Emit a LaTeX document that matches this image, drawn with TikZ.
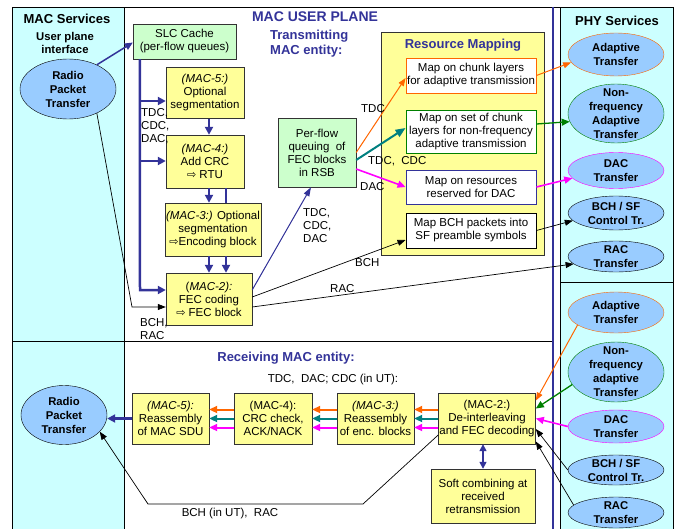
\documentclass[tikz,border=0pt]{standalone}
\usepackage{fontspec}
\setmainfont{Liberation Sans}
\newfontfamily\dvsfont{DejaVu Sans}
\usetikzlibrary{shapes.geometric, arrows.meta}

\definecolor{cyanbg}{HTML}{CCFFFF}
\definecolor{boxyellow}{HTML}{FFFF99}
\definecolor{boxgreen}{HTML}{CCFFCC}
\definecolor{ellblue}{HTML}{99CCFF}
\definecolor{navy}{HTML}{333399}
\definecolor{orangeln}{HTML}{FF6600}
\definecolor{tealln}{HTML}{008080}
\definecolor{greenln}{HTML}{008000}
\definecolor{magentaln}{HTML}{FF00FF}

\newcommand{\txtfont}{\fontsize{11.5}{13}\selectfont}
\newcommand{\ellfont}{\fontsize{11.3}{14}\selectfont\bfseries}
\newcommand{\headfont}{\fontsize{13}{15}\selectfont\bfseries}
\newcommand{\fecarrow}{{\dvsfont\fontsize{11}{11}\selectfont ⇨}}

\begin{document}
\begin{tikzpicture}[x=1pt, y=-1pt,
    panel/.style={draw, fill=cyanbg},
    box/.style={draw=black!80, align=center, inner sep=1pt, font=\txtfont},
    ybox/.style={box, fill=boxyellow},
    gbox/.style={box, fill=boxgreen},
    mapbox/.style={box, fill=white, line width=0.9pt, minimum width=130pt},
    ell/.style={ellipse, draw, fill=ellblue, inner sep=-8pt, align=center, font=\ellfont, minimum width=96pt},
    lbl/.style={font=\txtfont, align=left, inner sep=0pt},
    headtxt/.style={font=\headfont, text=navy, inner sep=0pt},
    busline/.style={draw=navy, line width=2.5pt},
    busarr/.style={busline, -{Triangle[length=8pt,width=8pt]}},
    navyarr/.style={draw=navy, line width=1.5pt, -{Triangle[length=8pt,width=7pt]}},
    navythin/.style={draw=navy, line width=1pt, -{Triangle[length=9pt,width=6pt]}},
    blkarr/.style={draw=black, line width=0.7pt, -{Triangle[length=8pt,width=6pt]}},
    orangearr/.style={draw=orangeln, line width=1pt, -{Triangle[length=8pt,width=6pt]}},
    tealarr/.style={draw=tealln, line width=2pt, -{Triangle[length=10pt,width=8pt]}},
    greenarr/.style={draw=greenln, line width=1.3pt, -{Triangle[length=8pt,width=7pt]}},
    magarr/.style={draw=magentaln, line width=1.6pt, -{Triangle[length=8pt,width=7pt]}},
    rxarr/.style={line width=2pt, -{Triangle[length=8pt,width=7pt]}}]
    \useasboundingbox (0,0) rectangle (676,529);
    \clip (0,0) rectangle (676,529);
    % panels
    \fill[white] (0,0) rectangle (676,529);
    \draw[panel] (12,7) rectangle (124,341);
    \draw[panel] (12,341) rectangle (124,540);
    \draw (124,7) rectangle (553,341);
    \draw (124,341) rectangle (553,540);
    \draw[panel] (560,7) rectangle (673,282);
    \draw[panel] (560,282) rectangle (673,540);
    \draw (553,7) -- (560,7);
    \draw[navy, line width=2pt] (553,7) -- (553,540);
    % MAC services
    \node[font=\headfont, inner sep=0pt] (macserv) at (67,19) {MAC Services};
    \node[font=\fontsize{11.3}{13}\selectfont\bfseries, align=center, inner sep=0pt] (upif) at (65,42.5) {User plane\\interface};
    \node[ell, minimum height=60pt] (radiot) at (68,89) {Radio\\Packet\\Transfer};
    \node[ell, minimum width=86pt, minimum height=59pt] (radior) at (64,415) {Radio\\Packet\\Transfer};
    % transmitting MAC entity
    \node[headtxt, font=\fontsize{14}{16}\selectfont\bfseries] (userplane) at (315,17) {MAC USER PLANE};
    \node[headtxt, align=left, anchor=west] (txent) at (270,44) {Transmitting\\MAC entity:};
    \node[gbox, minimum width=103pt, minimum height=35pt] (slc) at (184.5,41.5) {SLC Cache\\(per-flow queues)};
    \node[ybox, minimum width=78pt, minimum height=51pt] (mac5t) at (205,93) {\textit{(MAC-5:)}\\Optional\\segmentation};
    \node[ybox, minimum width=78pt, minimum height=53pt] (mac4t) at (205,161.5) {\textit{(MAC-4:)}\\Add CRC\\\fecarrow\ RTU};
    \node[ybox, minimum width=94pt, minimum height=53pt] (mac3t) at (213,229.5) {\textit{(MAC-3:)} Optional\\segmentation\\\fecarrow Encoding block};
    \node[ybox, minimum width=86pt, minimum height=52pt] (mac2t) at (209,299) {(\textit{MAC-2):}\\FEC coding\\\fecarrow\ FEC block};
    \node[gbox, minimum width=78pt, minimum height=69pt] (perflow) at (317,152.5) {Per-flow\\queuing\ \ of\\FEC blocks\\in RSB};
    % resource mapping
    \node[ybox, minimum width=163pt, minimum height=223pt] (resmap) at (462.5,143.5) {};
    \node[headtxt] (resmaptitle) at (463,45) {Resource Mapping};
    \node[mapbox, draw=orangeln, minimum height=35pt] (mapadapt) at (471,75.5) {Map on chunk layers\\for adaptive transmission};
    \node[mapbox, draw=greenln, minimum height=43pt] (mapnonfreq) at (471,131.5) {Map on set of chunk\\layers for non-frequency\\adaptive transmission};
    \node[mapbox, draw=navy, minimum height=34pt] (mapdac) at (471,187) {Map on resources\\reserved for DAC};
    \node[mapbox, draw=black, minimum height=35pt] (mapbch) at (471,230.5) {Map BCH packets into\\SF preamble symbols};
    % PHY services
    \node[font=\headfont, inner sep=0pt] (physerv) at (617,21) {PHY Services};
    \node[ell, draw=orangeln, minimum height=43pt] (phyadaptt) at (616,54.5) {Adaptive\\Transfer};
    \node[ell, draw=greenln, minimum height=59pt] (phynonfreqt) at (616,113.5) {Non-\\frequency\\Adaptive\\Transfer};
    \node[ell, draw=magentaln, minimum height=36pt] (phydact) at (616,170.5) {DAC\\Transfer};
    \node[ell, minimum height=34pt] (phybcht) at (616,213) {BCH / SF\\Control Tr.};
    \node[ell, minimum height=31pt] (phyract) at (616,256.5) {RAC\\Transfer};
    \node[ell, draw=orangeln, minimum height=41pt] (phyadaptr) at (616,312.5) {Adaptive\\Transfer};
    \node[ell, draw=greenln, minimum height=60pt] (phynonfreqr) at (616,372) {Non-\\frequency\\adaptive\\Transfer};
    \node[ell, draw=magentaln, minimum height=33pt] (phydacr) at (616,426.5) {DAC\\Transfer};
    \node[ell, minimum height=30pt] (phybchr) at (616,470) {BCH / SF\\Control Tr.};
    \node[ell, minimum height=31pt] (phyracr) at (616,512.5) {RAC\\Transfer};
    % receiving MAC entity
    \node[headtxt] (rxent) at (286,358) {Receiving MAC entity:};
    \node[lbl] (rxlbl) at (333,380) {TDC,\ \ DAC; CDC (in UT):};
    \node[ybox, minimum width=96pt, minimum height=51pt] (mac2r) at (487,418.5) {(MAC-2:)\\De-interleaving\\and FEC decoding};
    \node[ybox, minimum width=77pt, minimum height=51pt] (mac3r) at (375.5,418.5) {\textit{(MAC-3:)}\\Reassembly\\of enc. blocks};
    \node[ybox, minimum width=78pt, minimum height=51pt] (mac4r) at (273,418.5) {(MAC-4):\\CRC check,\\ACK/NACK};
    \node[ybox, minimum width=77pt, minimum height=51pt] (mac5r) at (170.5,418.5) {\textit{(MAC-5):}\\Reassembly\\of MAC SDU};
    \node[ybox, minimum width=104pt, minimum height=54pt] (softr) at (483,496) {Soft combining at\\received\\retransmission};

    % transmitting connectors
    \draw[navyarr] (radiot.40) -- ([yshift=-1pt]slc.west);
    \coordinate (bustop) at ([xshift=7pt]slc.south west);
    \coordinate (bus5) at (140,101);
    \coordinate (bus4) at (140,161);
    \coordinate (bus2) at (140,290);
    \draw[busarr] (bustop) -- (bus2) -- (bus2 -| mac2t.west);
    \draw[busarr] (bus5) -- (bus5 -| mac5t.west);
    \draw[busarr] (bus4) -- (bus4 -| mac4t.west);
    \node[lbl, anchor=west] (buslbl) at (141,126) {TDC,\\CDC,\\DAC,};
    \draw[busarr] ([xshift=4pt]mac5t.south) -- ([xshift=4pt]mac4t.north);
    \draw[busarr] ([xshift=4pt]mac4t.south) -- ([xshift=-4pt]mac3t.north);
    \draw[busline] ([xshift=21pt]mac4t.south) -- ([xshift=13pt]mac3t.north);
    \draw[busarr] ([xshift=-4pt]mac3t.south) -- (mac2t.north);
    \draw[busarr] ([xshift=13pt]mac3t.south) -- ([xshift=17pt]mac2t.north);
    \coordinate (bchbend) at (132,307);
    \draw[blkarr] (radiot.-40) -- (bchbend) -- (bchbend -| mac2t.west);
    \node[lbl, anchor=west] (bchraclbl) at (140,329.5) {BCH,\\RAC};
    \draw[navythin] ([yshift=9pt]mac2t.east) -- ([xshift=-6pt]perflow.south);
    \node[lbl, anchor=west] (pflbl) at (303,226) {TDC,\\CDC,\\DAC};
    \draw[orangearr] (perflow.east) -- ([yshift=-2.5pt]mapadapt.west);
    \node[lbl] (tdclbl) at (373,109) {TDC};
    \draw[tealarr] ([yshift=-7.5pt]perflow.east) -- ([yshift=3.5pt]mapnonfreq.west);
    \node[lbl, anchor=west] (tdccdclbl) at (368,161) {TDC,\ \ CDC};
    \draw[magarr] ([yshift=-16.5pt]perflow.east) -- (mapdac.west);
    \node[lbl, anchor=west] (daclbl) at (360,187) {DAC};
    \draw[blkarr] ([yshift=2pt]mac2t.east) -- ([yshift=-9.5pt]mapbch.west);
    \node[lbl, anchor=west] (bchlbl) at (355,263) {BCH};
    \draw[blkarr] ([yshift=-8pt]mac2t.east) -- (phyract.190);
    \node[lbl, anchor=west] (raclbl) at (330,289) {RAC};
    \draw[orangearr] (mapadapt.east) -- (phyadaptt.190);
    \draw[greenarr] ([yshift=7.5pt]mapnonfreq.east) -- (phynonfreqt.190);
    \draw[magarr] (mapdac.east) -- (phydact.190);
    \draw[blkarr] (mapbch.east) -- (phybcht.190);

    % receiving connectors
    \draw[rxarr, orangeln] ([yshift=9pt]mac2r.west) -- ([yshift=9pt]mac3r.east);
    \draw[rxarr, tealln] (mac2r.west) -- (mac3r.east);
    \draw[rxarr, magentaln] ([yshift=-9pt]mac2r.west) -- ([yshift=-9pt]mac3r.east);
    \draw[rxarr, orangeln] ([yshift=9pt]mac3r.west) -- ([yshift=9pt]mac4r.east);
    \draw[rxarr, tealln] (mac3r.west) -- (mac4r.east);
    \draw[rxarr, magentaln] ([yshift=-9pt]mac3r.west) -- ([yshift=-9pt]mac4r.east);
    \draw[rxarr, orangeln] ([yshift=9pt]mac4r.west) -- ([yshift=9pt]mac5r.east);
    \draw[rxarr, tealln] (mac4r.west) -- (mac5r.east);
    \draw[rxarr, magentaln] ([yshift=-9pt]mac4r.west) -- ([yshift=-9pt]mac5r.east);
    \draw[busarr] (mac5r.west) -- (mac5r.west -| radior.east);
    \coordinate (rxbend1) at (363,504);
    \coordinate (rxbend2) at (148,504);
    \draw[blkarr] ([yshift=-16.5pt]mac2r.west) -- (rxbend1) -- (rxbend2) -- (radior.-25);
    \node[lbl] (rxbchlbl) at (230,514) {BCH (in UT),\ \ RAC};
    \draw[navy, line width=1.5pt, {Triangle[length=7pt,width=7pt]}-{Triangle[length=7pt,width=7pt]}] ([xshift=-4pt]mac2r.south) -- (softr.north);
    \draw[orangearr] (phyadaptr.198) -- ([yshift=18pt]mac2r.east);
    \draw[greenarr] (phynonfreqr.196) -- ([yshift=10pt]mac2r.east);
    \draw[magarr] (phydacr.west) -- (mac2r.east);
    \draw[blkarr] (phybchr.west) -- ([yshift=-10.5pt]mac2r.east);
    \draw[blkarr] (phyracr.170) -- ([yshift=-23pt]mac2r.east);
\end{tikzpicture}
\end{document}
